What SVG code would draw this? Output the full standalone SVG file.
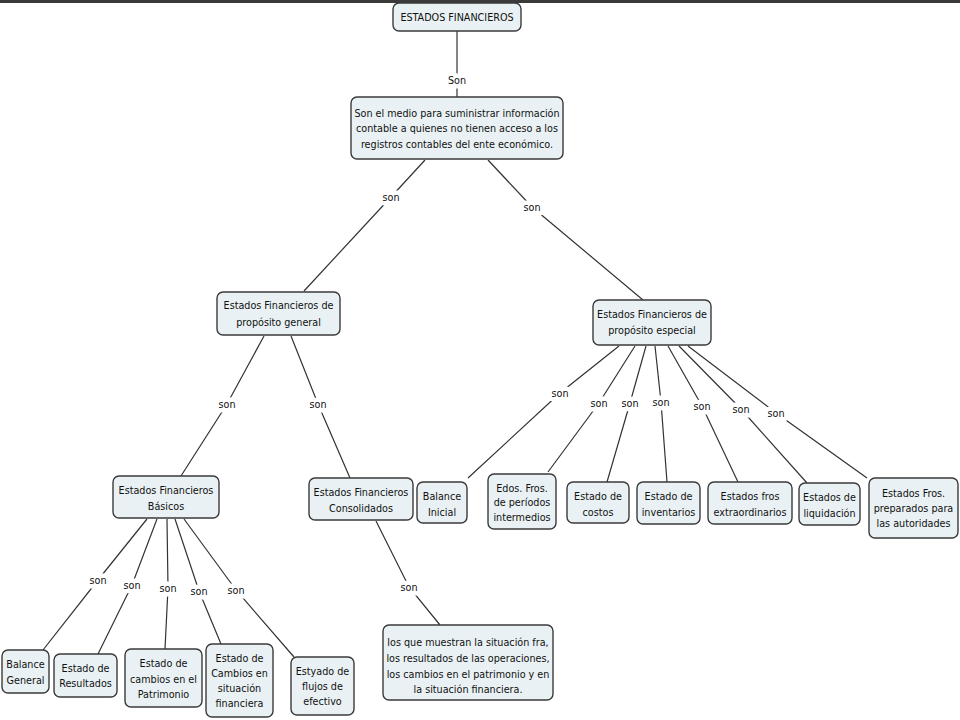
<svg xmlns="http://www.w3.org/2000/svg" width="960" height="720" viewBox="0 0 960 720">
<style>
.n{fill:#e9f1f4;stroke:#3a3a3a;stroke-width:1.4}
.t{font-family:"DejaVu Sans Condensed","DejaVu Sans",sans-serif;font-size:10.7px;fill:#111;text-anchor:middle}
.c{fill:none;stroke:#333;stroke-width:1.2}
.l{font-family:"DejaVu Sans Condensed","DejaVu Sans",sans-serif;font-size:10.7px;fill:#111;text-anchor:middle;stroke:#fff;stroke-width:9;paint-order:stroke;stroke-linejoin:round}
</style>
<rect x="0" y="0" width="960" height="720" fill="#fff"/>
<rect x="0" y="0" width="960" height="3" fill="#3a3a3a"/>
<g id="connectors">
<polyline class="c" points="457,31 457,80 457,97"/>
<polyline class="c" points="425,160 391,197 304,291"/>
<polyline class="c" points="488,160 532,207 643,300"/>
<polyline class="c" points="264,336 227,404 181,476"/>
<polyline class="c" points="291,336 318,404 350,478"/>
<polyline class="c" points="619,346 560,393 468,478"/>
<polyline class="c" points="635,346 599,403 548,472"/>
<polyline class="c" points="646,346 630,403 607,482"/>
<polyline class="c" points="655,346 661,402 667,482"/>
<polyline class="c" points="668,346 702,406 738,482"/>
<polyline class="c" points="679,346 741,409 807,483"/>
<polyline class="c" points="688,346 776,413 867,478"/>
<polyline class="c" points="147,519 98,580 43,650"/>
<polyline class="c" points="157,519 132,585 98,654"/>
<polyline class="c" points="167,519 168,588 165,649"/>
<polyline class="c" points="175,519 199,591 221,644"/>
<polyline class="c" points="184,519 236,590 294,657"/>
<polyline class="c" points="376,521 409,587 440,625"/>
<text class="l" x="457" y="84">Son</text>
<text class="l" x="391" y="201">son</text>
<text class="l" x="532" y="211">son</text>
<text class="l" x="227" y="408">son</text>
<text class="l" x="318" y="408">son</text>
<text class="l" x="560" y="397">son</text>
<text class="l" x="599" y="407">son</text>
<text class="l" x="630" y="407">son</text>
<text class="l" x="661" y="406">son</text>
<text class="l" x="702" y="410">son</text>
<text class="l" x="741" y="413">son</text>
<text class="l" x="776" y="417">son</text>
<text class="l" x="98" y="584">son</text>
<text class="l" x="132" y="589">son</text>
<text class="l" x="168" y="592">son</text>
<text class="l" x="199" y="595">son</text>
<text class="l" x="236" y="594">son</text>
<text class="l" x="409" y="591">son</text>
</g>
<g id="n_root"><rect class="n" x="393" y="3" width="128" height="28" rx="6"/><text class="t" x="457" y="21">ESTADOS FINANCIEROS</text></g>
<g id="n_medio"><rect class="n" x="351" y="97" width="212" height="62" rx="6"/>
<text class="t" x="457" y="117">Son el medio para suministrar información</text>
<text class="t" x="457" y="132">contable a quienes no tienen acceso a los</text>
<text class="t" x="457" y="148">registros contables del ente económico.</text></g>
<g id="n_general"><rect class="n" x="217" y="292" width="123" height="43" rx="6"/>
<text class="t" x="278.5" y="309">Estados Financieros de</text>
<text class="t" x="278.5" y="326">propósito general</text></g>
<g id="n_especial"><rect class="n" x="593" y="300" width="118" height="45" rx="6"/>
<text class="t" x="652" y="318">Estados Financieros de</text>
<text class="t" x="652" y="334">propósito especial</text></g>
<g id="n_basicos"><rect class="n" x="113" y="476" width="106" height="42" rx="6"/>
<text class="t" x="166" y="494">Estados Financieros</text>
<text class="t" x="166" y="510">Básicos</text></g>
<g id="n_consolidados"><rect class="n" x="309" y="478" width="104" height="42" rx="6"/>
<text class="t" x="361" y="496">Estados Financieros</text>
<text class="t" x="361" y="512">Consolidados</text></g>
<g id="n_bal_inicial"><rect class="n" x="417" y="482" width="50" height="41" rx="6"/>
<text class="t" x="442" y="500">Balance</text>
<text class="t" x="442" y="516">Inicial</text></g>
<g id="n_intermedios"><rect class="n" x="488" y="474" width="68" height="55" rx="6"/>
<text class="t" x="522" y="492">Edos. Fros.</text>
<text class="t" x="522" y="506">de períodos</text>
<text class="t" x="522" y="521">intermedios</text></g>
<g id="n_costos"><rect class="n" x="567" y="482" width="62" height="41" rx="6"/>
<text class="t" x="598" y="500">Estado de</text>
<text class="t" x="598" y="516">costos</text></g>
<g id="n_inventarios"><rect class="n" x="637" y="482" width="63" height="42" rx="6"/>
<text class="t" x="668.5" y="500">Estado de</text>
<text class="t" x="668.5" y="516">inventarios</text></g>
<g id="n_extra"><rect class="n" x="708" y="482" width="84" height="42" rx="6"/>
<text class="t" x="750" y="500">Estados fros</text>
<text class="t" x="750" y="516">extraordinarios</text></g>
<g id="n_liquidacion"><rect class="n" x="799" y="483" width="61" height="42" rx="6"/>
<text class="t" x="829.5" y="501">Estados de</text>
<text class="t" x="829.5" y="517">liquidación</text></g>
<g id="n_autoridades"><rect class="n" x="869" y="478" width="89" height="60" rx="6"/>
<text class="t" x="913.5" y="497">Estados Fros.</text>
<text class="t" x="913.5" y="512">preparados para</text>
<text class="t" x="913.5" y="527">las autoridades</text></g>
<g id="n_bal_general"><rect class="n" x="2" y="650" width="47" height="43" rx="6"/>
<text class="t" x="25.5" y="668">Balance</text>
<text class="t" x="25.5" y="684">General</text></g>
<g id="n_resultados"><rect class="n" x="54" y="654" width="63" height="43" rx="6"/>
<text class="t" x="85.5" y="672">Estado de</text>
<text class="t" x="85.5" y="687">Resultados</text></g>
<g id="n_patrimonio"><rect class="n" x="125" y="649" width="77" height="58" rx="6"/>
<text class="t" x="163.5" y="667">Estado de</text>
<text class="t" x="163.5" y="683">cambios en el</text>
<text class="t" x="163.5" y="698">Patrimonio</text></g>
<g id="n_situacion"><rect class="n" x="206" y="644" width="67" height="73" rx="6"/>
<text class="t" x="239.5" y="662">Estado de</text>
<text class="t" x="239.5" y="677">Cambios en</text>
<text class="t" x="239.5" y="692">situación</text>
<text class="t" x="239.5" y="707">financiera</text></g>
<g id="n_flujos"><rect class="n" x="291" y="657" width="63" height="58" rx="6"/>
<text class="t" x="322.5" y="675">Estyado de</text>
<text class="t" x="322.5" y="690">flujos de</text>
<text class="t" x="322.5" y="705">efectivo</text></g>
<g id="n_muestran"><rect class="n" x="383" y="625" width="170" height="75" rx="6"/>
<text class="t" x="468" y="646">los que muestran la situación fra,</text>
<text class="t" x="468" y="662">los resultados de las operaciones,</text>
<text class="t" x="468" y="678">los cambios en el patrimonio y en</text>
<text class="t" x="468" y="693">la situación financiera.</text></g>
</svg>
